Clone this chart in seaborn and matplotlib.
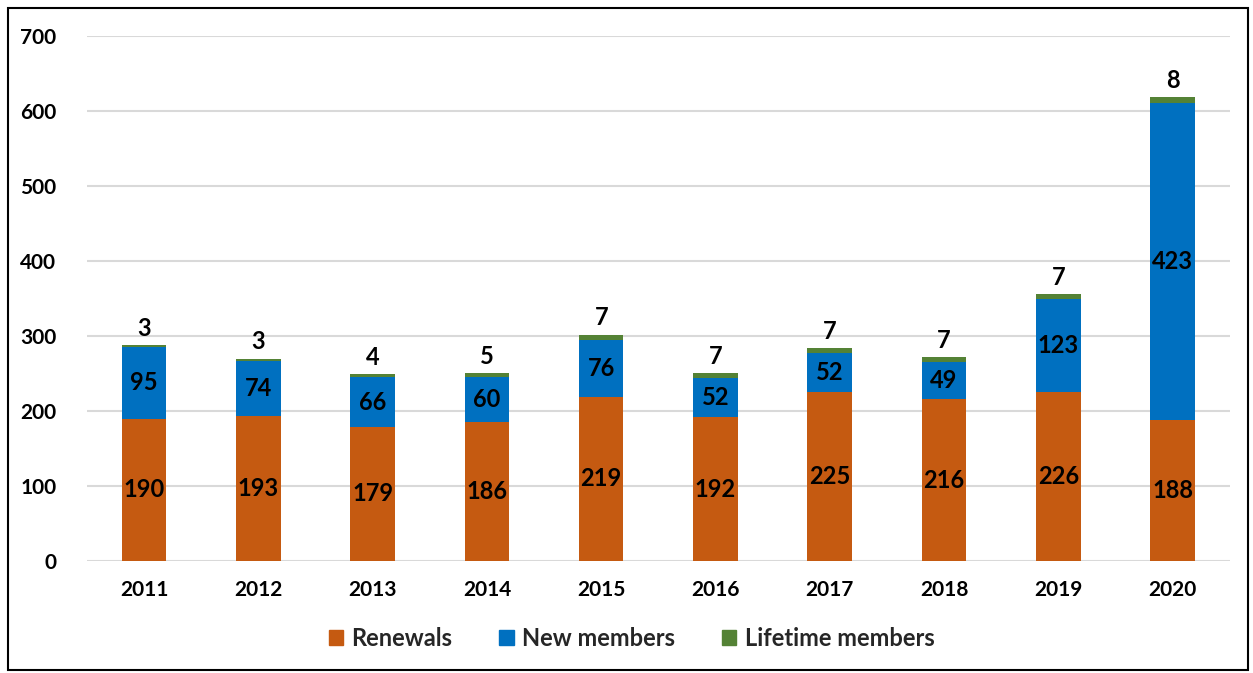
import matplotlib
matplotlib.use("Agg")
import matplotlib.pyplot as plt
import seaborn as sns
import numpy as np
import pandas as pd
from matplotlib.patches import Patch, Rectangle

years = ["2011", "2012", "2013", "2014", "2015", "2016", "2017", "2018", "2019", "2020"]
renewals = [190, 193, 179, 186, 219, 192, 225, 216, 226, 188]
new_members = [95, 74, 66, 60, 76, 52, 52, 49, 123, 423]
lifetime = [3, 3, 4, 5, 7, 7, 7, 7, 7, 8]
y_ticks = [0, 100, 200, 300, 400, 500, 600, 700]

c_ren = "#C55A11"
c_new = "#0070C0"
c_life = "#548235"

sns.set_theme(style="white")
plt.rcParams['font.family'] = ['Lato', 'DejaVu Sans']

fig = plt.figure(figsize=(12.53, 6.73), dpi=100)
ax = fig.add_axes([0.0694, 0.1664, 0.912, 0.78])

df = pd.DataFrame({"year": years, "ren": renewals, "new": new_members, "life": lifetime})
bottom_new = np.array(renewals)
bottom_life = bottom_new + np.array(new_members)

w = 0.39
kw = dict(width=w, ax=ax, saturation=1, zorder=3, linewidth=0)
sns.barplot(data=df, x="year", y="ren", color=c_ren, **kw)
sns.barplot(data=df, x="year", y="new", color=c_new, bottom=bottom_new, **kw)
sns.barplot(data=df, x="year", y="life", color=c_life, bottom=bottom_life, **kw)

fs_tick = 15
fs_lab = 17
for i in range(len(years)):
    ax.text(i, renewals[i] / 2, str(renewals[i]), ha="center", va="center",
            fontsize=fs_lab, fontweight="bold", color="black", zorder=4)
    ax.text(i, renewals[i] + new_members[i] / 2, str(new_members[i]), ha="center", va="center",
            fontsize=fs_lab, fontweight="bold", color="black", zorder=4)
    ax.text(i, bottom_life[i] + lifetime[i] + 7, str(lifetime[i]), ha="center", va="bottom",
            fontsize=fs_lab, fontweight="bold", color="black", zorder=4)

ax.set_ylim(0, 700)
ax.set_xlim(-0.5, 9.5)
ax.set_yticks(y_ticks)
ax.set_yticklabels([str(v) for v in y_ticks], fontsize=fs_tick, fontweight="bold")
ax.set_xticks(range(len(years)))
ax.set_xticklabels(years, fontsize=fs_tick, fontweight="bold")
ax.tick_params(axis="both", length=0, colors="black")
ax.tick_params(axis="y", pad=22)
ax.tick_params(axis="x", pad=14)
ax.yaxis.grid(True, color="#D9D9D9", linewidth=1.5, zorder=0)
ax.xaxis.grid(False)
for s in ax.spines.values():
    s.set_visible(False)
ax.set_xlabel("")
ax.set_ylabel("")

handles = [Patch(color=c_ren, label="Renewals"), Patch(color=c_new, label="New members"),
           Patch(color=c_life, label="Lifetime members")]
leg = fig.legend(handles=handles, loc="center", bbox_to_anchor=(0.504, 0.051), ncol=3,
                 frameon=False, handlelength=0.6, handleheight=0.6, handletextpad=0.35,
                 columnspacing=2.0, prop={"size": 17, "weight": "bold"})

fig.patches.append(Rectangle((0.006, 0.004), 0.99, 0.984, transform=fig.transFigure,
                             fill=False, edgecolor="black", linewidth=1.5))

fig.savefig("out.png", dpi=100)
